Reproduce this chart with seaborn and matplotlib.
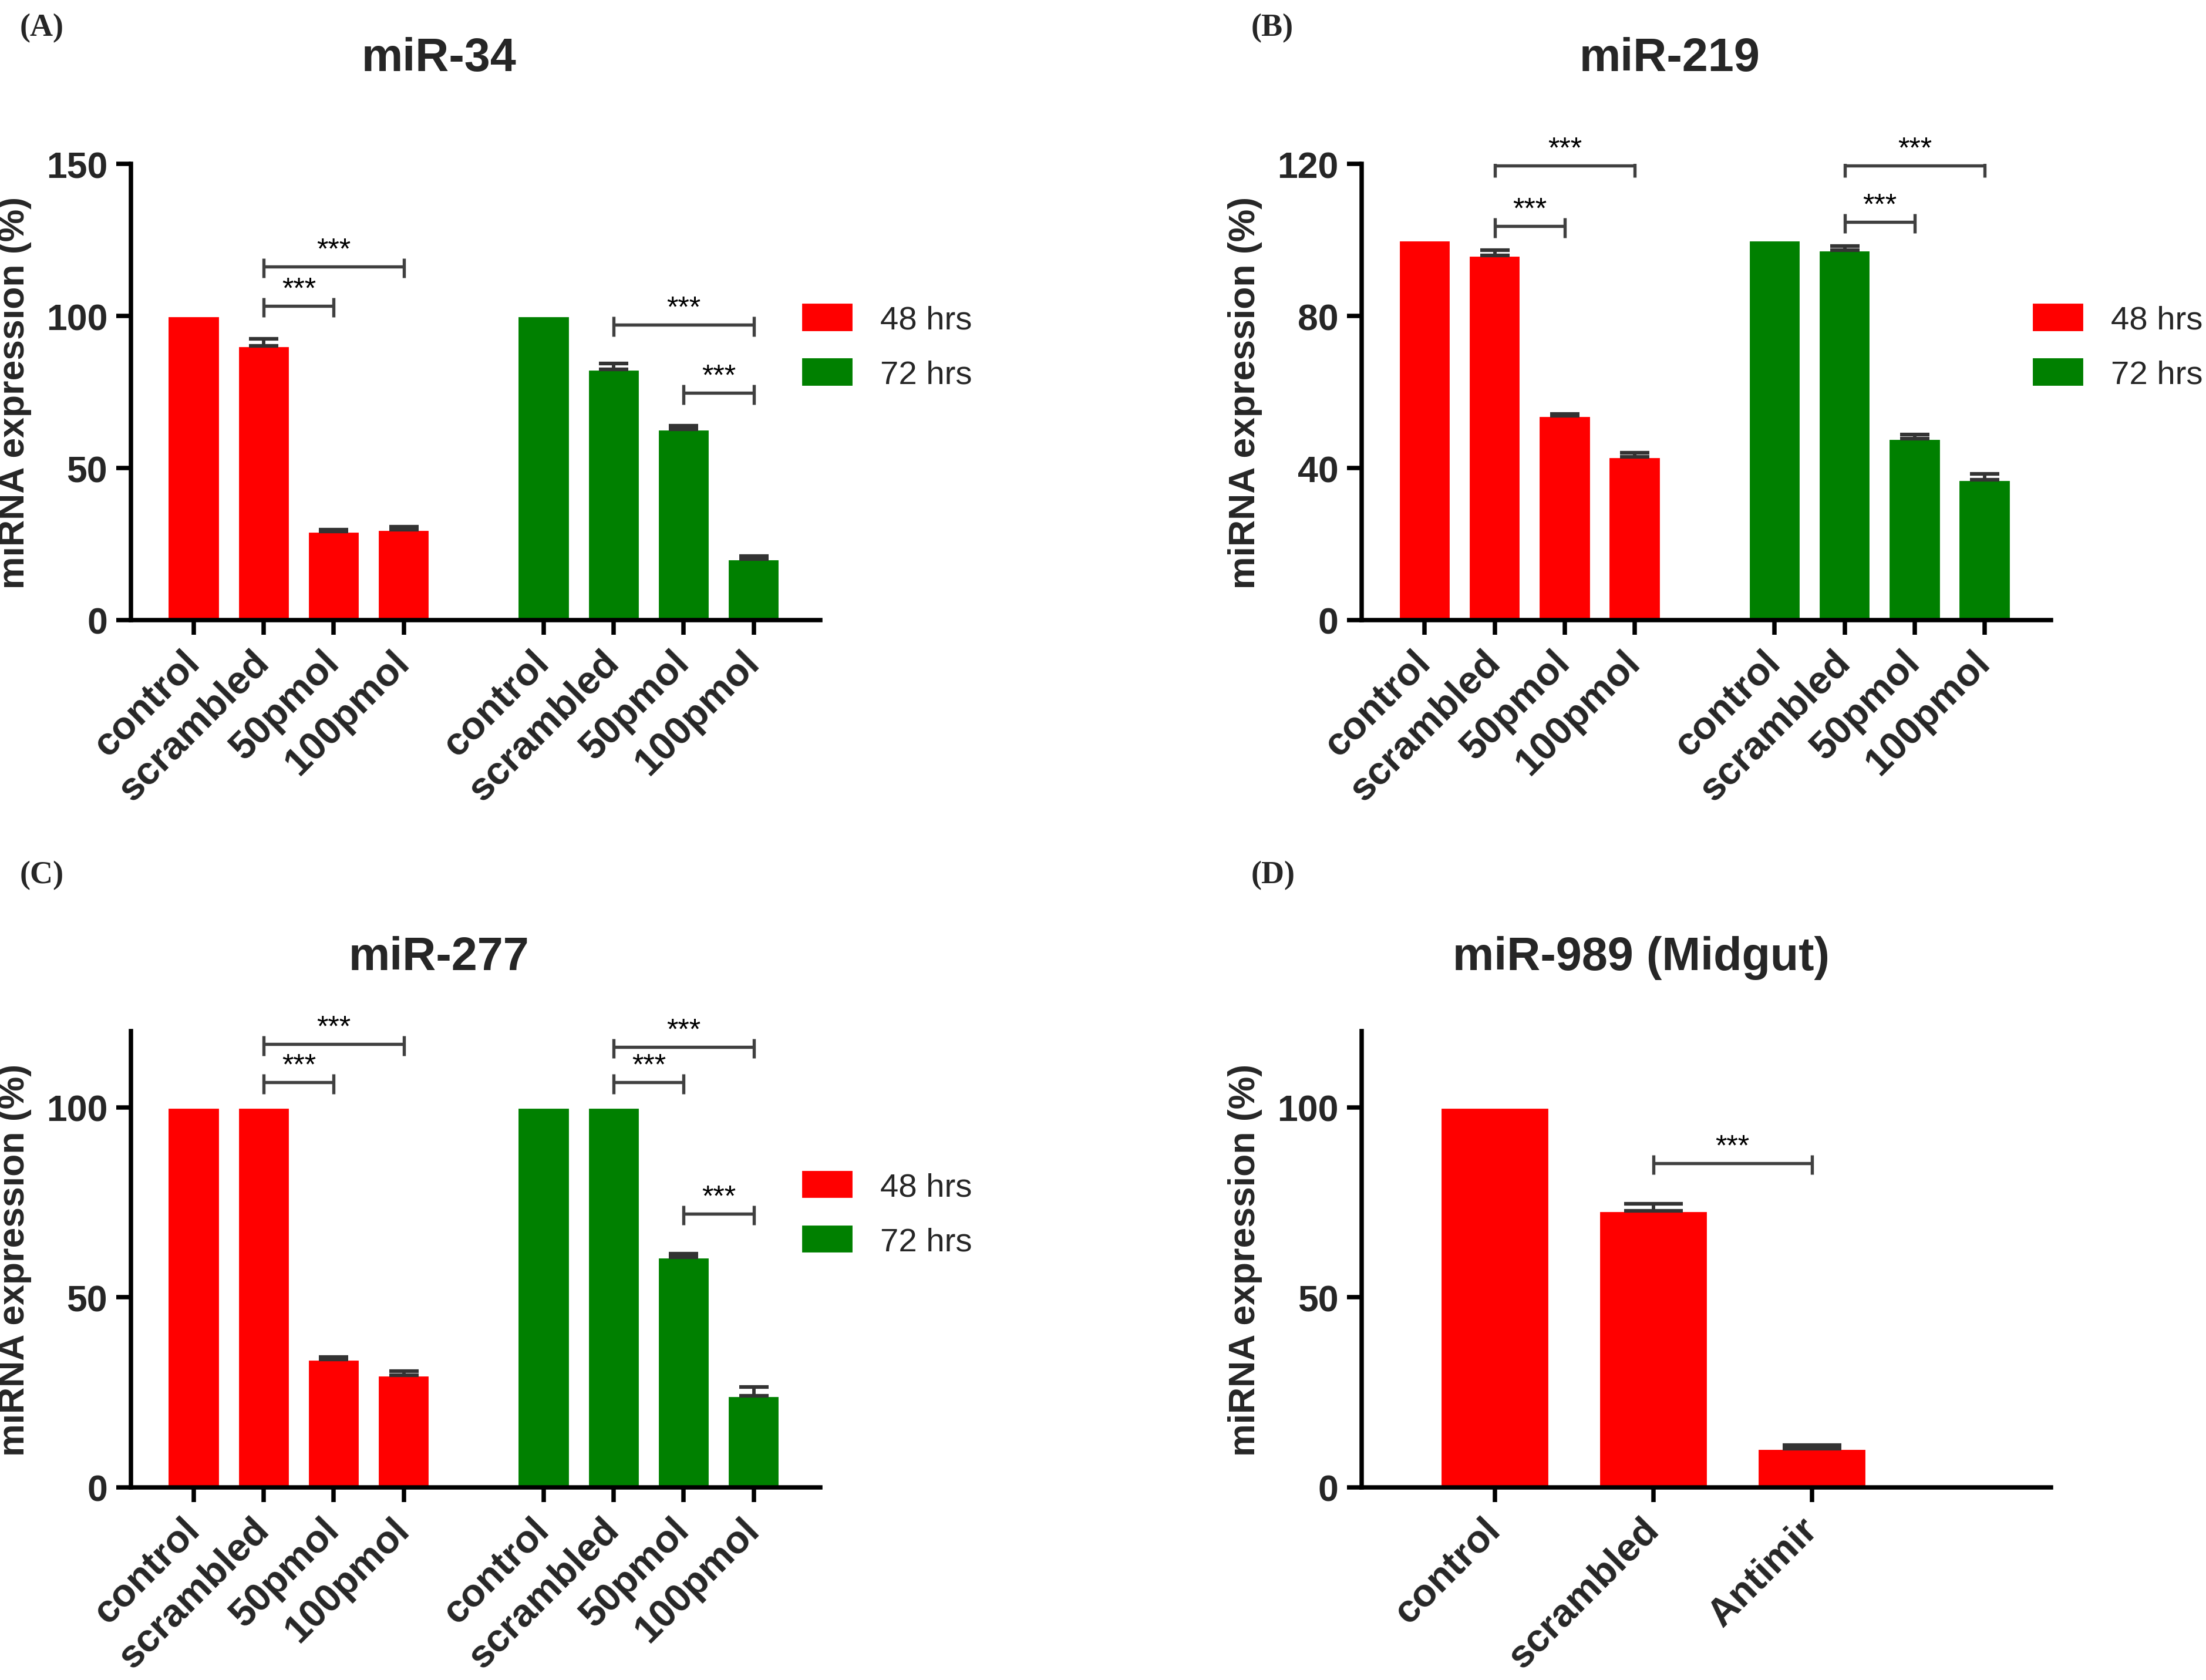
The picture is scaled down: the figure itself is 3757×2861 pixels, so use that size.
import numpy as np
import pandas as pd
import matplotlib.pyplot as plt
import seaborn as sns

# Data
conditions = ["control", "scrambled", "50pmol", "100pmol"]
times = ["48 hrs", "72 hrs"]
colors = {"48 hrs": "#ff0000", "72 hrs": "#008000"}

# miR-34
mir34_48 = [100, 90.2, 29.2, 29.7]
mir34_48_err = [0, 2.4, 0.6, 1.1]
mir34_72 = [100, 82.5, 62.7, 20.1]
mir34_72_err = [0, 1.9, 1.3, 1.0]
mir34_sig = [("48 hrs", "scrambled", "50pmol", 103.4),
             ("48 hrs", "scrambled", "100pmol", 116.3),
             ("72 hrs", "scrambled", "100pmol", 97.1),
             ("72 hrs", "50pmol", "100pmol", 74.7)]

# miR-219
mir219_48 = [100, 96.0, 53.7, 43.0]
mir219_48_err = [0, 1.3, 0.5, 1.0]
mir219_72 = [100, 97.4, 47.8, 37.0]
mir219_72_err = [0, 1.0, 1.1, 1.5]
mir219_sig = [("48 hrs", "scrambled", "50pmol", 103.7),
              ("48 hrs", "scrambled", "100pmol", 119.6),
              ("72 hrs", "scrambled", "50pmol", 104.8),
              ("72 hrs", "scrambled", "100pmol", 119.6)]

# miR-277
mir277_48 = [100, 100, 33.6, 29.5]
mir277_48_err = [0, 0, 0.7, 1.0]
mir277_72 = [100, 100, 60.5, 24.0]
mir277_72_err = [0, 0, 1.0, 2.4]
mir277_sig = [("48 hrs", "scrambled", "50pmol", 106.6),
              ("48 hrs", "scrambled", "100pmol", 116.6),
              ("72 hrs", "scrambled", "50pmol", 106.6),
              ("72 hrs", "scrambled", "100pmol", 115.9),
              ("72 hrs", "50pmol", "100pmol", 72.0)]

# miR-989 (Midgut)
mir989_labels = ["control", "scrambled", "Antimir"]
mir989 = [100, 72.8, 10.1]
mir989_err = [0, 1.8, 1.0]
mir989_sig = [("scrambled", "Antimir", 85.3)]

sns.set_theme(style="ticks")
plt.rcParams["font.family"] = ["Liberation Sans", "DejaVu Sans"]

fig = plt.figure(figsize=(3757 / 300, 2862 / 300), dpi=300)

ERR_COLOR = "#333333"
LINE = 1.8


def style_axes(ax, ymax, yticks):
    ax.set_ylim(0, ymax)
    ax.set_yticks(yticks)
    ax.set_ylabel("miRNA expression (%)", fontsize=15, fontweight="bold", labelpad=6)
    ax.set_xlabel("")
    sns.despine(ax=ax)
    for s in ["left", "bottom"]:
        ax.spines[s].set_linewidth(LINE)
        ax.spines[s].set_color("black")
    ax.tick_params(axis="both", width=LINE, length=6, color="black")
    ax.tick_params(axis="y", labelsize=15)
    ax.tick_params(axis="x", labelsize=16, pad=9)
    for lab in ax.get_yticklabels():
        lab.set_fontweight("bold")


def bracket(ax, x1, x2, y, ymax):
    h = ymax * 0.018
    kw = dict(color="#404040", lw=1.3, solid_capstyle="butt")
    ax.plot([x1, x2], [y, y], **kw)
    ax.plot([x1, x1], [y - h * 1.4, y + h], **kw)
    ax.plot([x2, x2], [y - h * 1.4, y + h], **kw)
    ax.text((x1 + x2) / 2, y + ymax * 0.006, "***", ha="center", va="bottom",
            fontsize=12, color="black")


def time_panel(ax, v48, e48, v72, e72, ymax, yticks, sig):
    keys = [f"{t}|{c}" for t in times for c in conditions]
    order = keys[:4] + ["gap"] + keys[4:]
    df = pd.DataFrame({
        "key": keys,
        "time": np.repeat(times, len(conditions)),
        "value": v48 + v72,
        "err": e48 + e72,
    })
    sns.barplot(data=df, x="key", y="value", hue="time", order=order,
                hue_order=times, palette=colors, dodge=False, width=0.75,
                saturation=1, errorbar=None, ax=ax)
    pos = {k: i for i, k in enumerate(order)}
    shown = df[df["err"] > 0]
    ax.errorbar([pos[k] for k in shown["key"]], shown["value"],
                yerr=[np.zeros(len(shown)), shown["err"]], fmt="none",
                ecolor=ERR_COLOR, elinewidth=1.4, capsize=6, capthick=1.5, zorder=3)
    ax.set_xticks([pos[k] for k in keys])
    ax.set_xticklabels(conditions * 2, rotation=45, ha="right", va="center",
                       rotation_mode="anchor", fontweight="bold")
    ax.set_xlim(-0.9, len(order) - 1 + 0.95)
    for t, a, b, y in sig:
        bracket(ax, pos[f"{t}|{a}"], pos[f"{t}|{b}"], y, ymax)
    style_axes(ax, ymax, yticks)
    sns.move_legend(ax, "center left", bbox_to_anchor=(0.972, 0.60), frameon=False,
                    title=None, fontsize=13.5, handlelength=1.6, handleheight=1.0,
                    labelspacing=0.65, handletextpad=0.8, borderpad=0, borderaxespad=0)


L1, L2 = 0.0593, 0.6173
W = 0.3125
B1, B2 = 0.6307, 0.1147
H = 0.2713

axA = fig.add_axes([L1, B1, W, H])
time_panel(axA, mir34_48, mir34_48_err, mir34_72, mir34_72_err, 150, [0, 50, 100, 150], mir34_sig)

axB = fig.add_axes([L2, B1, W, H])
time_panel(axB, mir219_48, mir219_48_err, mir219_72, mir219_72_err, 120, [0, 40, 80, 120], mir219_sig)

axC = fig.add_axes([L1, B2, W, H])
time_panel(axC, mir277_48, mir277_48_err, mir277_72, mir277_72_err, 120, [0, 50, 100], mir277_sig)

axD = fig.add_axes([L2, B2, W, H])
sns.barplot(x=mir989_labels, y=mir989, color="#ff0000", width=0.69, saturation=1,
            errorbar=None, ax=axD)
xs = [i for i, e in enumerate(mir989_err) if e > 0]
axD.errorbar(xs, [mir989[i] for i in xs], yerr=[np.zeros(len(xs)), [mir989_err[i] for i in xs]],
             fmt="none", ecolor=ERR_COLOR, elinewidth=1.4, capsize=12, capthick=1.5, zorder=3)
axD.set_xticks(range(len(mir989_labels)))
axD.set_xticklabels(mir989_labels, rotation=45, ha="right", va="center",
                    rotation_mode="anchor", fontweight="bold")
axD.set_xlim(-0.84, 3.51)
for a, b, y in mir989_sig:
    bracket(axD, mir989_labels.index(a), mir989_labels.index(b), y, 120)
style_axes(axD, 120, [0, 50, 100])

# titles and panel letters
title_kw = dict(ha="center", va="center", fontsize=19, fontweight="bold")
fig.text(0.199, 0.965, "miR-34", **title_kw)
fig.text(0.757, 0.965, "miR-219", **title_kw)
fig.text(0.199, 0.430, "miR-277", **title_kw)
fig.text(0.744, 0.430, "miR-989 (Midgut)", **title_kw)

letter_kw = dict(ha="left", va="center", fontsize=13, fontweight="bold",
                 family=["Liberation Serif", "DejaVu Serif"])
fig.text(0.009, 0.983, "(A)", **letter_kw)
fig.text(0.567, 0.983, "(B)", **letter_kw)
fig.text(0.009, 0.479, "(C)", **letter_kw)
fig.text(0.567, 0.479, "(D)", **letter_kw)

fig.savefig("out.png", dpi=300, facecolor="white")
